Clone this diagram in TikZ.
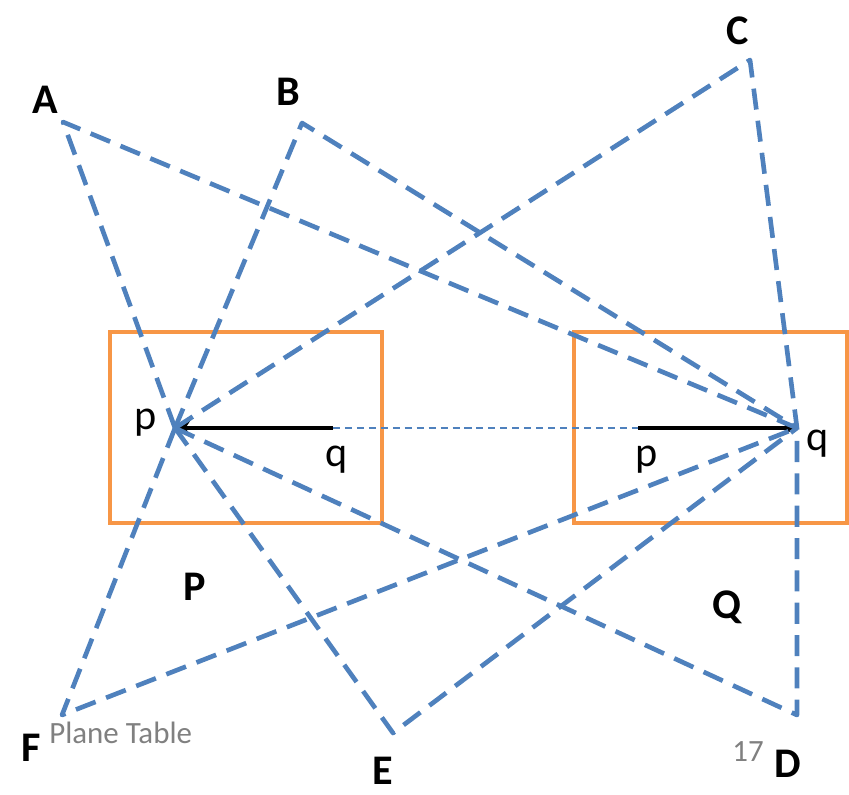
\documentclass[tikz,border=0pt]{standalone}
\usepackage{fontspec}
\setmainfont{Carlito}
\usetikzlibrary{arrows.meta, positioning}
\definecolor{ptblue}{RGB}{79,129,189}
\definecolor{ptorange}{RGB}{247,150,70}
\definecolor{ptgray}{RGB}{128,128,128}
\tikzset{
  %% ---- boxes ----
  tablebox/.style = {draw=ptorange, line width=3pt},
  %% ---- rays ----
  ray/.style      = {draw=ptblue, line width=3.3pt, line join=round,
                     dash pattern=on 15pt off 8pt},
  baseline/.style = {draw=ptblue, line width=1pt,
                     dash pattern=on 5pt off 3.5pt},
  plotted/.style  = {-{Stealth[length=11pt, width=11pt]}, line width=3.5pt, color=black},
  %% ---- labels ----
  station/.style  = {font=\fontsize{30}{32}\selectfont\bfseries, inner sep=0pt},
  pt/.style       = {font=\fontsize{30}{32}\selectfont, inner sep=0pt},
  note/.style     = {font=\fontsize{22}{24}\selectfont, text=ptgray, inner sep=0pt},
}
\begin{document}
\begin{tikzpicture}[x=0.025cm, y=-0.025cm]
\useasboundingbox (0,0) rectangle (849,795);

% the two table positions
\draw[tablebox] (110,332) rectangle (382,523);
\draw[tablebox] (574,332) rectangle (847,523);

% stations and plotted points
\coordinate (A) at (63,122);
\coordinate (B) at (302,123);
\coordinate (C) at (750,60);
\coordinate (D) at (797,715);
\coordinate (E) at (393,733);
\coordinate (F) at (62,715);
\coordinate (p1) at (175,428);
\coordinate (q1) at (333,428);
\coordinate (p2) at (638,428);
\coordinate (q2) at (797,428);

% base line on the two sheets
\draw[plotted] (q1) -- (p1);
\draw[plotted] (p2) -- (q2);
\draw[baseline] (q1) -- (p2);

% rays to the stations
\foreach \s in {A,B,C,D,E,F}
  \draw[ray] (p1) -- (\s) -- (q2);

% labels
\node[station] (lA) at (45,100) {A};
\node[station] (lB) at (288,92) {B};
\node[station] (lC) at (738,31) {C};
\node[station] (lD) at (788,764) {D};
\node[station] (lE) at (383,771) {E};
\node[station] (lF) at (31,748) {F};
\node[station] (lP) at (195,587) {P};
\node[station] (lQ) at (727,607) {Q};
\node[pt] (lp1) at (146,423) {p};
\node[pt] (lq1) at (337,460) {q};
\node[pt] (lp2) at (647,460) {p};
\node[pt] (lq2) at (818,444) {q};
\node[note, anchor=west] (title) at (49,733) {Plane Table};
\node[note] (page) at (748,752) {17};

\end{tikzpicture}
\end{document}
